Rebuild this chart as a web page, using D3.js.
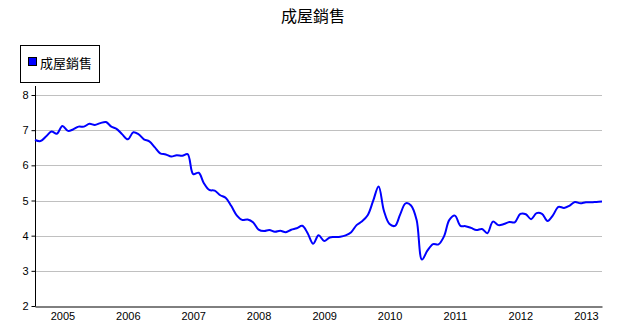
<!DOCTYPE html>
<html>
<head>
<meta charset="utf-8">
<script src="https://cdn.jsdelivr.net/npm/d3@7"></script>
<style>
body { margin: 0; background: #fff; font-family: "Liberation Sans", Arial, sans-serif; }
.grid line { stroke: #c0c0c0; stroke-width: 1; }
.axis text { font-size: 11px; fill: #000; }
</style>
</head>
<body>
<div class="graphic"></div>
<script>
var width = 618;
var height = 329;

// monthly series, first month Aug 2004
var startMonth = new Date(2004, 7, 1);
var sales = [
	6.72, 6.69, 6.82, 6.96, 6.90, 7.12, 6.98, 7.02, 7.10, 7.10,
	7.18, 7.15, 7.20, 7.23, 7.10, 7.03, 6.88, 6.74, 6.94, 6.89,
	6.74, 6.68, 6.51, 6.34, 6.31, 6.25, 6.29, 6.27, 6.32, 5.75,
	5.79, 5.50, 5.30, 5.28, 5.15, 5.08, 4.85, 4.58, 4.45, 4.46,
	4.38, 4.17, 4.13, 4.16, 4.11, 4.14, 4.10, 4.17, 4.21, 4.28,
	4.07, 3.77, 4.01, 3.85, 3.95, 3.96, 3.97, 4.01, 4.10, 4.30,
	4.41, 4.58, 4.98, 5.40, 4.70, 4.33, 4.28, 4.60, 4.92, 4.86,
	4.45, 3.32, 3.58, 3.76, 3.75, 3.98, 4.45, 4.57, 4.28, 4.27,
	4.22, 4.16, 4.19, 4.07, 4.40, 4.30, 4.33, 4.39, 4.38, 4.62,
	4.61, 4.47, 4.64, 4.62, 4.42, 4.58, 4.82, 4.79, 4.85, 4.96,
	4.92, 4.95, 4.95, 4.96, 4.97
];
var yTicks = [2, 3, 4, 5, 6, 7, 8];
var xTickYears = [2005, 2006, 2007, 2008, 2009, 2010, 2011, 2012, 2013];
var title = "成屋銷售";
var seriesName = "成屋銷售";

var data = sales.map(function(v, i){
	return {date: d3.timeMonth.offset(startMonth, i), value: v};
});

var svg = d3.select("div.graphic").append("svg")
	.attr("width", width)
	.attr("height", height);

var plotLeft = 35, plotRight = 602, plotTop = 95, plotBottom = 306;

var x = d3.scaleTime()
	.domain(d3.extent(data, function(d){ return d.date; }))
	.range([plotLeft, plotRight]);
var y = d3.scaleLinear()
	.domain([2, 8])
	.range([plotBottom, plotTop]);

// horizontal grid
svg.append("g")
	.attr("class", "grid")
	.selectAll("line")
	.data(yTicks.slice(1))
	.enter()
	.append("line")
	.attr("x1", plotLeft)
	.attr("x2", plotRight)
	.attr("y1", function(d){ return Math.round(y(d)) + 0.5; })
	.attr("y2", function(d){ return Math.round(y(d)) + 0.5; });

// y axis
var yAxis = svg.append("g")
	.attr("class", "axis")
	.attr("transform", "translate(" + (plotLeft + 0.5) + ",0)")
	.call(d3.axisLeft(y).tickValues(yTicks).tickFormat(d3.format("d")).tickSize(4).tickPadding(3));
yAxis.select(".domain").attr("d", "M0," + (plotTop - 9) + "V" + (plotBottom + 0.5)).attr("stroke", "#000");

// x axis
var xAxis = svg.append("g")
	.attr("class", "axis")
	.attr("transform", "translate(0," + (plotBottom + 0.5) + ")")
	.call(d3.axisBottom(x)
		.tickValues(xTickYears.map(function(yr){ return new Date(yr, 0, 1); }))
		.tickFormat(d3.timeFormat("%Y"))
		.tickSize(0).tickPadding(6));
xAxis.select(".domain").attr("stroke", "#000");

// line
var line = d3.line()
	.x(function(d){ return x(d.date); })
	.y(function(d){ return y(d.value); })
	.curve(d3.curveCatmullRom);

svg.append("path")
	.datum(data)
	.attr("d", line)
	.attr("fill", "none")
	.attr("stroke", "#0000ff")
	.attr("stroke-width", 2);

// title
svg.append("text")
	.attr("x", 313)
	.attr("y", 22)
	.attr("text-anchor", "middle")
	.style("font-family", "'Noto Sans CJK TC', sans-serif")
	.style("font-size", "16px")
	.text(title);

// legend
var legend = svg.append("g");
legend.append("rect")
	.attr("x", 20.5).attr("y", 45.5)
	.attr("width", 79).attr("height", 37)
	.attr("fill", "#fff").attr("stroke", "#000");
legend.append("rect")
	.attr("x", 28.5).attr("y", 57.5)
	.attr("width", 8).attr("height", 8)
	.attr("fill", "#0000ff").attr("stroke", "#000");
legend.append("text")
	.attr("x", 40)
	.attr("y", 67.5)
	.style("font-family", "'Noto Sans CJK TC', sans-serif")
	.style("font-size", "13px")
	.text(seriesName);
</script>
</body>
</html>
